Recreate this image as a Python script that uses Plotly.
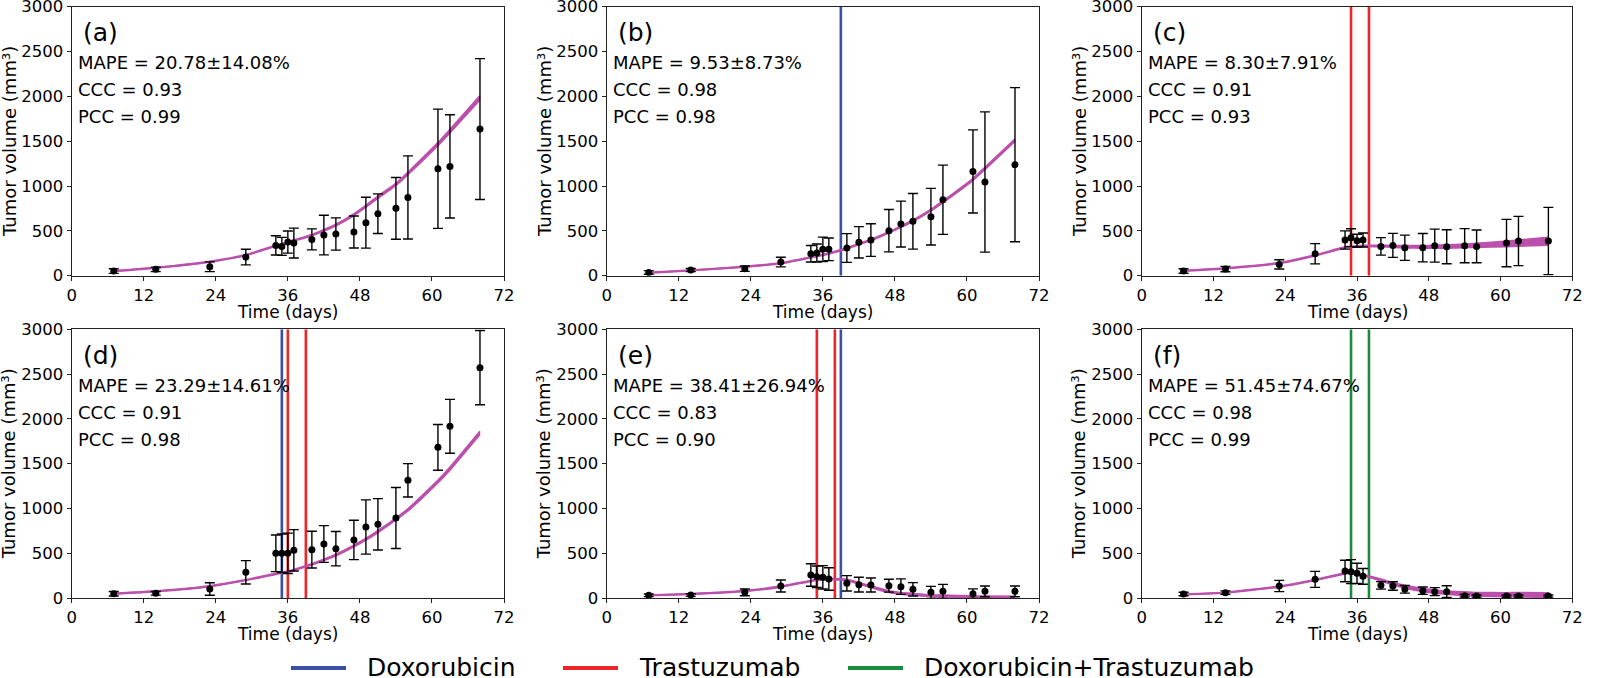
import plotly.graph_objects as go

W, H = 1602, 678

# ---------------- data ----------------
days = [7, 14, 23, 29, 34, 35, 36, 37, 40, 42, 44, 47, 49, 51, 54, 56, 61, 63, 68]

panel_labels = ["(a)", "(b)", "(c)", "(d)", "(e)", "(f)"]
mape_text = ["20.78±14.08%", "9.53±8.73%", "8.30±7.91%", "23.29±14.61%", "38.41±26.94%", "51.45±74.67%"]
ccc_text = ["0.93", "0.98", "0.91", "0.91", "0.83", "0.98"]
pcc_text = ["0.99", "0.98", "0.93", "0.98", "0.90", "0.99"]

vol_a = [52, 71, 100, 208, 338, 327, 375, 364, 405, 453, 465, 487, 591, 691, 751, 873, 1193, 1219, 1635]
err_a = [26, 25, 54, 87, 107, 100, 123, 167, 117, 221, 180, 178, 284, 221, 344, 463, 665, 576, 786]
model_a = [52, 89, 156, 230, 334, 352, 372, 392, 453, 505, 565, 680, 775, 875, 1018, 1141, 1468, 1613, 1985]
spread_a = [2, 2, 3, 3, 4, 4, 4, 4, 5, 5, 6, 7, 8, 9, 10, 11, 14, 16, 20]

vol_b = [37, 63, 78, 152, 245, 253, 294, 294, 309, 372, 398, 502, 576, 606, 658, 847, 1163, 1045, 1238]
err_b = [20, 18, 30, 54, 92, 100, 136, 126, 160, 175, 182, 236, 256, 310, 316, 386, 463, 782, 860]
model_b = [33, 59, 100, 138, 204, 218, 232, 248, 305, 353, 398, 483, 546, 613, 732, 825, 1074, 1197, 1513]
spread_b = [2, 2, 2, 3, 3, 3, 3, 3, 4, 4, 4, 5, 5, 6, 6, 7, 8, 9, 10]

vol_c = [52, 74, 126, 245, 398, 424, 390, 398, 327, 338, 312, 312, 335, 323, 335, 327, 364, 387, 387]
err_c = [25, 30, 52, 113, 102, 100, 72, 78, 98, 134, 141, 158, 184, 190, 190, 182, 264, 275, 375]
model_c = [52, 82, 141, 227, 316, 323, 328, 332, 331, 327, 323, 322, 323, 326, 332, 338, 355, 364, 385]
spread_c = [2, 3, 3, 4, 4, 4, 4, 4, 6, 8, 10, 12, 14, 16, 18, 20, 28, 32, 42]

vol_d = [48, 52, 100, 287, 499, 499, 499, 532, 540, 603, 551, 648, 793, 823, 893, 1314, 1682, 1917, 2572]
err_d = [25, 20, 70, 130, 205, 215, 225, 231, 205, 205, 192, 220, 303, 287, 340, 186, 255, 301, 415]
model_d = [48, 75, 132, 200, 270, 282, 294, 313, 376, 425, 480, 581, 655, 741, 882, 983, 1300, 1445, 1846]
spread_d = [2, 2, 3, 3, 4, 4, 4, 4, 5, 5, 6, 7, 7, 8, 9, 10, 12, 13, 15]

vol_e = [30, 33, 63, 134, 257, 238, 231, 212, 164, 149, 145, 138, 127, 97, 63, 74, 48, 74, 74]
err_e = [15, 15, 38, 67, 126, 120, 130, 125, 86, 82, 78, 72, 86, 75, 67, 78, 54, 60, 60]
model_e = [30, 45, 78, 127, 190, 201, 206, 211, 201, 164, 127, 71, 52, 41, 26, 22, 15, 13, 11]
spread_e = [2, 2, 3, 3, 4, 4, 4, 4, 5, 6, 7, 8, 8, 8, 8, 8, 7, 7, 7]

vol_f = [45, 60, 134, 208, 301, 294, 275, 242, 141, 134, 97, 82, 71, 71, 26, 22, 22, 22, 22]
err_f = [20, 20, 63, 89, 120, 134, 113, 88, 42, 47, 43, 41, 45, 65, 15, 12, 12, 12, 12]
model_f = [41, 60, 127, 201, 275, 287, 268, 255, 201, 160, 127, 89, 71, 60, 48, 41, 37, 36, 33]
spread_f = [2, 2, 3, 3, 4, 4, 4, 4, 8, 10, 12, 14, 15, 16, 18, 18, 20, 22, 24]

vols = [vol_a, vol_b, vol_c, vol_d, vol_e, vol_f]
errs = [err_a, err_b, err_c, err_d, err_e, err_f]
models = [model_a, model_b, model_c, model_d, model_e, model_f]
spreads = [spread_a, spread_b, spread_c, spread_d, spread_e, spread_f]

# treatment days per panel
dox_days = [[], [39], [], [35], [39], []]
tras_days = [[], [], [35, 38], [36, 39], [35, 38], []]
combo_days = [[], [], [], [], [], [35, 38]]

legend_names = ["Doxorubicin", "Trastuzumab", "Doxorubicin+Trastuzumab"]

x_ticks = [0, 12, 24, 36, 48, 60, 72]
y_ticks = [0, 500, 1000, 1500, 2000, 2500, 3000]

# ---------------- style ----------------
C_MODEL = "#bb50ac"
C_DOX = "#3a4fa6"
C_TRAS = "#ee2528"
C_COMBO = "#1b8a3c"
FONT = "DejaVu Sans"

# pixel geometry of plot areas
xpix = [(71.7, 504.0), (606.7, 1039.0), (1141.7, 1572.3)]
ypix = [(6.7, 275.7), (329.3, 598.0)]


def px(x):
    return x / W


def py(y):
    return 1 - y / H


fig = go.Figure()
annotations = []
shapes = []

for i in range(6):
    r, c = divmod(i, 3)
    n = i + 1
    xa = "x" if n == 1 else f"x{n}"
    ya = "y" if n == 1 else f"y{n}"
    x0, x1 = xpix[c]
    y0, y1 = ypix[r]

    # treatment lines
    for days_list, col in ((dox_days[i], C_DOX), (tras_days[i], C_TRAS), (combo_days[i], C_COMBO)):
        for d in days_list:
            fig.add_trace(go.Scatter(x=[d, d], y=[0, 3000], mode="lines",
                                     line=dict(color=col, width=2.6),
                                     xaxis=xa, yaxis=ya, showlegend=False, hoverinfo="skip"))

    lo = [m - s for m, s in zip(models[i], spreads[i])]
    hi = [m + s for m, s in zip(models[i], spreads[i])]
    fig.add_trace(go.Scatter(x=days, y=lo, mode="lines",
                             line=dict(color=C_MODEL, width=2, shape="spline", smoothing=0.5),
                             xaxis=xa, yaxis=ya, showlegend=False))
    fig.add_trace(go.Scatter(x=days, y=hi, mode="lines", fill="tonexty", fillcolor=C_MODEL,
                             line=dict(color=C_MODEL, width=2, shape="spline", smoothing=0.5),
                             xaxis=xa, yaxis=ya, showlegend=False))
    fig.add_trace(go.Scatter(x=days, y=vols[i], mode="markers",
                             marker=dict(color="black", size=7),
                             error_y=dict(type="data", array=errs[i], color="black",
                                          thickness=1.4, width=5),
                             xaxis=xa, yaxis=ya, showlegend=False))

    axis_common = dict(showline=True, linecolor="#222", linewidth=1.2, mirror=True,
                       ticks="outside", ticklen=4, tickwidth=1.2, tickcolor="#222",
                       showgrid=False, zeroline=False, automargin=False,
                       ticklabeloverflow="allow",
                       tickfont=dict(family=FONT, size=16.5, color="black"))
    fig.layout[f"xaxis{'' if n == 1 else n}"] = dict(
        domain=[px(x0), px(x1)], anchor=ya, range=[0, 72], tickvals=x_ticks, **axis_common)
    fig.layout[f"yaxis{'' if n == 1 else n}"] = dict(
        domain=[py(y1), py(y0)], anchor=xa, range=[0, 3000], tickvals=y_ticks, **axis_common)

    # texts
    annotations.append(dict(xref="paper", yref="paper", x=px(x0 + 9), y=py(y0 + 26),
                            xanchor="left", yanchor="middle", text=panel_labels[i], showarrow=False,
                            font=dict(family=FONT, size=25, color="black")))
    for k, t in enumerate([f"MAPE = {mape_text[i]}", f"CCC = {ccc_text[i]}", f"PCC = {pcc_text[i]}"]):
        annotations.append(dict(xref="paper", yref="paper", x=px(x0 + 4), y=py(y0 + 56 + 27 * k),
                                xanchor="left", yanchor="middle", text=t, showarrow=False,
                                font=dict(family=FONT, size=18, color="black")))
    # axis titles
    annotations.append(dict(xref="paper", yref="paper", x=px((x0 + x1) / 2), y=py(y1 + 36),
                            xanchor="center", yanchor="middle", text="Time (days)", showarrow=False,
                            font=dict(family=FONT, size=17, color="black")))
    annotations.append(dict(xref="paper", yref="paper", x=px(x0 - 63), y=py((y0 + y1) / 2),
                            xanchor="center", yanchor="middle", text="Tumor volume (mm³)",
                            textangle=-90, showarrow=False,
                            font=dict(family=FONT, size=18, color="black")))

# manual legend
leg_items = [(291, C_DOX), (563, C_TRAS), (848, C_COMBO)]
for (lx, col), name in zip(leg_items, legend_names):
    shapes.append(dict(type="line", xref="paper", yref="paper", x0=px(lx), x1=px(lx + 55),
                       y0=py(668), y1=py(668), line=dict(color=col, width=4)))
    annotations.append(dict(xref="paper", yref="paper", x=px(lx + 74), y=py(667),
                            xanchor="left", yanchor="middle", text=name, showarrow=False,
                            font=dict(family=FONT, size=25, color="black")))

fig.update_layout(template="none", width=W, height=H,
                  margin=dict(l=0, r=0, t=0, b=0, pad=0, autoexpand=False),
                  paper_bgcolor="white", plot_bgcolor="white",
                  annotations=annotations, shapes=shapes, showlegend=False)

fig.write_html("out.html", config={"displayModeBar": False},
               post_script="document.body.style.margin='0px';")
